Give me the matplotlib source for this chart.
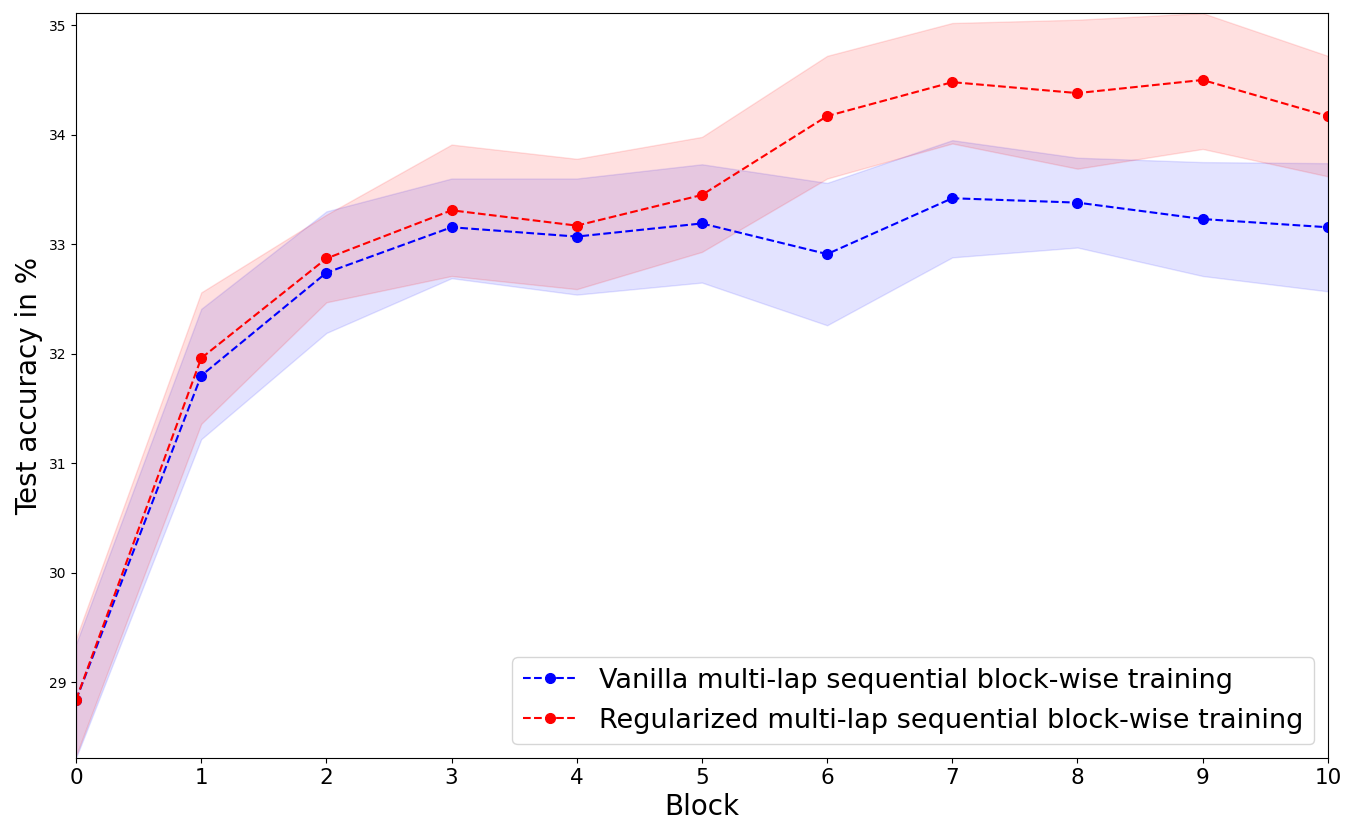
import matplotlib
matplotlib.use("Agg")
import matplotlib.pyplot as plt
import numpy as np

blocks = [0, 1, 2, 3, 4, 5, 6, 7, 8, 9, 10]

vanilla_mean = [28.84, 31.80, 32.74, 33.155, 33.07, 33.19, 32.91, 33.42, 33.38, 33.23, 33.155]
vanilla_upper = [29.35, 32.41, 33.30, 33.60, 33.60, 33.73, 33.56, 33.95, 33.79, 33.75, 33.74]
vanilla_lower = [28.31, 31.22, 32.19, 32.69, 32.54, 32.65, 32.26, 32.88, 32.97, 32.71, 32.57]

reg_mean = [28.84, 31.96, 32.87, 33.31, 33.17, 33.45, 34.17, 34.48, 34.38, 34.50, 34.17]
reg_upper = [29.40, 32.56, 33.27, 33.91, 33.78, 33.98, 34.72, 35.02, 35.05, 35.11, 34.72]
reg_lower = [28.33, 31.36, 32.47, 32.71, 32.59, 32.93, 33.60, 33.92, 33.69, 33.87, 33.62]

labels = ["Vanilla multi-lap sequential block-wise training",
          "Regularized multi-lap sequential block-wise training"]

fig = plt.figure(figsize=(13.46, 8.22), dpi=100)
ax = fig.add_axes([0.0565, 0.078, 0.930, 0.906])

ax.plot(blocks, vanilla_mean, "o--", color="blue", lw=1.5, ms=7, label=labels[0])
ax.fill_between(blocks, vanilla_lower, vanilla_upper, color="blue", alpha=0.11)
ax.plot(blocks, reg_mean, "o--", color="red", lw=1.5, ms=7, label=labels[1])
ax.fill_between(blocks, reg_lower, reg_upper, color="red", alpha=0.12)

ax.set_xlim(0, 10)
ax.set_ylim(min(vanilla_lower + reg_lower), max(vanilla_upper + reg_upper))
ax.set_xticks(blocks)
ax.tick_params(axis="x", labelsize=15.5)
ax.tick_params(axis="y", labelsize=10)
ax.set_xlabel("Block", fontsize=20, labelpad=4)
ax.set_ylabel("Test accuracy in %", fontsize=20)
ax.legend(loc="lower right", fontsize=19.5)

fig.savefig("out.png", dpi=100)
